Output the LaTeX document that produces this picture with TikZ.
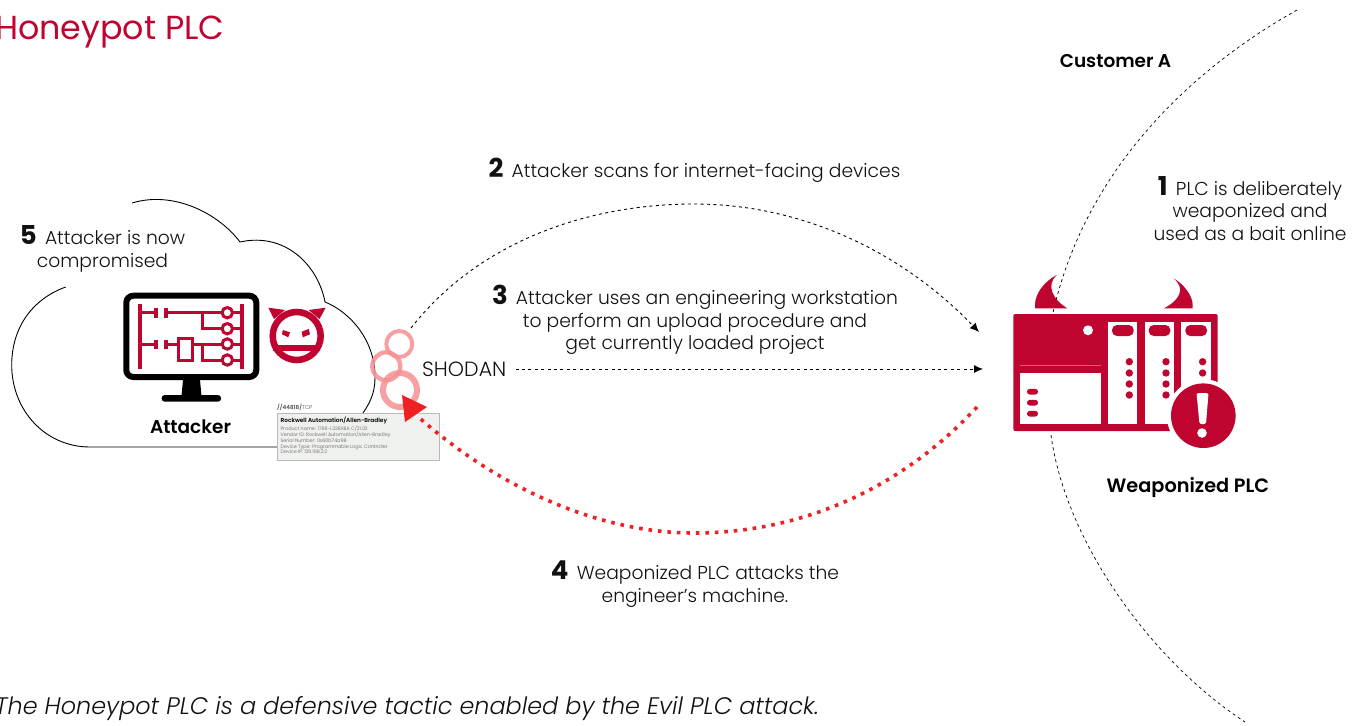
\documentclass[tikz,border=0pt]{standalone}
\usepackage{fontspec}
\setmainfont{Poppins}[UprightFont=* Light,BoldFont=* SemiBold,ItalicFont=* Light Italic]
\newfontfamily\numfont{Poppins}[UprightFont=* Bold]
\newfontfamily\titlefont{Poppins}
\definecolor{plcred}{HTML}{BF0430}
\definecolor{arrowred}{HTML}{EE2024}
\definecolor{cardfill}{HTML}{EFF1EF}
\definecolor{cardedge}{HTML}{B9BBB9}
\definecolor{bodytext}{HTML}{111111}
\usetikzlibrary{arrows.meta}
\tikzset{
 lbl/.style={font=\fontsize{18.7}{22.4}\selectfont,text=bodytext,align=center,inner sep=0pt,anchor=center},
 strong/.style={font=\fontsize{18.5}{22}\bfseries\selectfont,text=black,inner sep=0pt},
 thinrim/.style={draw=black,line width=0.9pt},
 rimdash/.style={draw=black,line width=0.7pt,dash pattern=on 3pt off 3.2pt},
 scandash/.style={draw=black,line width=0.9pt,dash pattern=on 3pt off 3.4pt},
 reddot/.style={draw=arrowred,line width=3.6pt,dash pattern=on 3.6pt off 5.9pt},
 ring/.style={draw=arrowred!50!white,opacity=0.85},
 rail/.style={draw=plcred,line width=3.8pt},
 wire/.style={draw=plcred,line width=3pt},
 solidred/.style={fill=plcred,draw=none},
 blank/.style={fill=white,draw=none},
 cardtxt/.style={font=\fontsize{4.85}{5.8}\selectfont,text=black!65,align=left,inner sep=0pt,anchor=north west},
}
\newcommand{\bign}[1]{{\numfont\fontsize{26}{22}\selectfont #1}}
\begin{document}
\begin{tikzpicture}[x=1pt,y=-1pt]
\useasboundingbox (0,0) rectangle (1356,725);
% title / caption
\node[anchor=base west,inner sep=0pt,text=plcred,font=\fontsize{33.3}{34}\titlefont] (title) at (-5,40) {Honeypot PLC};
\node[anchor=base west,inner sep=0pt,text=bodytext,font=\fontsize{23.9}{26}\itshape\selectfont] (caption) at (-5,714) {The Honeypot PLC is a defensive tactic enabled by the Evil PLC attack.};
% customer boundary
\coordinate (rimA) at (1297,10);
\coordinate (rimB) at (1052.7,314);
\coordinate (rimC) at (1051,435);
\coordinate (rimD) at (1245,722);
\draw[rimdash] (rimA) .. controls (1190,70) and (1085,170) .. (rimB);
\draw[rimdash] (rimC) .. controls (1065,540) and (1150,660) .. (rimD);
% cloud
\draw[thinrim,line join=miter] (65.7,287) .. controls (30,300) and (11.7,330) .. (11.7,365)
 .. controls (11.7,410) and (45,447) .. (90,447) -- (277,447);
\draw[thinrim] (363,413) .. controls (372,400) and (375,390) .. (375,377)
 .. controls (375,340) and (350,312) .. (325,302)
 .. controls (318,265) and (285,232) .. (240,242)
 .. controls (220,215) and (175,190) .. (132,203);
% labels
\node[lbl] (l5) at (102.5,249) {\bign{5}\, Attacker is now\\compromised};
\node[strong,anchor=base] (attacker) at (190.5,433) {Attacker};
\node[strong,anchor=base] (custa) at (1115.5,67) {Customer A};
\node[strong,anchor=base,font=\fontsize{19.3}{22}\bfseries\selectfont] (wplc) at (1188,492) {Weaponized PLC};
\node[lbl] (l1) at (1250,208.5) {\bign{1}\, PLC is deliberately\\weaponized and\\used as a bait online};
\node[lbl] (l2) at (694.5,170) {\bign{2}\, Attacker scans for internet-facing devices};
\node[lbl] (l3) at (695,320) {\bign{3}\, Attacker uses an engineering workstation\\to perform an upload procedure and\\get currently loaded project};
\node[lbl] (l4) at (695,584) {\bign{4}\, Weaponized PLC attacks the\\engineer's machine.};
\node[lbl,anchor=west,font=\fontsize{20.6}{22}\selectfont] (shodan) at (422,369) {SHODAN};
% monitor
\draw[black,line width=6pt,fill=white,rounded corners=7pt] (126.3,295.7) rectangle (256.3,377);
\fill[black] (183,380) -- (200,380) -- (201.5,396) -- (181.5,396) -- cycle;
\fill[black,rounded corners=3pt] (161.7,395) rectangle (221,401.7);
% ladder
\draw[rail] (140,304) -- (140,369);
\draw[rail] (242,304) -- (242,369);
\draw[wire] (140,312.7) -- (155,312.7);
\draw[wire] (140,344) -- (155,344);
\draw[rail] (156,308) -- (156,317.5);
\draw[rail] (166,308) -- (166,317.5);
\draw[rail] (156,339.5) -- (156,349);
\draw[rail] (166,339.5) -- (166,349);
\draw[wire] (166,312.7) -- (242,312.7);
\draw[wire] (202.3,312.7) -- (202.3,328.7) -- (242,328.7);
\draw[wire] (166,344) -- (242,344);
\draw[wire] (202.3,344) -- (202.3,360) -- (242,360);
\draw[wire,fill=white] (178,338) rectangle (192,360.5);
\foreach \yy in {312.7,328.7,344,360}{\draw[wire,fill=white] (227.3,\yy) circle (5.2);}
% devil
\fill[plcred] (268.3,307.7) -- (285,310) -- (274,319) -- cycle;
\fill[plcred] (325.7,307.7) -- (308.5,310) -- (319.5,319) -- cycle;
\draw[plcred,line width=6.5pt,fill=white] (296.7,336) circle (24);
\draw[plcred,line width=6pt] (273,348) -- (320.4,348);
\fill[plcred] (282.7,330) -- (290,332.3) -- (288.3,337.3) -- (282,334.3) -- cycle;
\fill[plcred] (308.7,329) -- (301.7,331.7) -- (302.7,337.3) -- (310,334.3) -- cycle;
% scan paths
\coordinate (plcTop) at (979,332);
\coordinate (plcMid) at (983,369);
\coordinate (plcLow) at (977,407);
\coordinate (scanStart) at (411,328);
\coordinate (redEnd) at (420.7,419);
\draw[scandash,-{Latex[length=9pt,width=8pt]}] (scanStart) .. controls (480,240) and (590,204) .. (694,204) .. controls (800,204) and (900,250) .. (plcTop);
\draw[scandash,-{Latex[length=9pt,width=8pt]}] (shodan.east) ++(9,0) -- (plcMid);
% rings
\draw[ring,line width=4pt] (399.3,344) circle (13);
\draw[ring,line width=4.4pt] (386.3,366.3) circle (14);
\draw[ring,line width=6pt] (400,390) circle (17);
% card
\node[anchor=base west,inner sep=0pt,text=black!70,font=\fontsize{5.6}{6}\selectfont] (port) at (277,409) {\textbf{//44818/}TCP};
\node[draw=cardedge,fill=cardfill,line width=1.4pt,minimum width=162pt,minimum height=47pt,anchor=north west,inner sep=0pt] (card) at (276.6,413) {};
\node[anchor=north west,inner sep=0pt,text=black,font=\fontsize{5.8}{6}\bfseries\selectfont] (cardtitle) at (280.5,416.5) {Rockwell Automation/Allen-Bradley};
\node[cardtxt] (cardbody) at (280.5,426) {Product name: 1766-L32BXBA C/21.02\\Vendor ID: Rockwell Automation/Allen-Bradley\\Serial Number: 0x60b74a98\\Device Type: Programmable Logic Controller\\Device IP: 129.168.2.2};
% red attack path
\draw[reddot] (plcLow) .. controls (900,490) and (800,533) .. (694,533) .. controls (590,533) and (490,480) .. (redEnd);
\fill[arrowred] (402,395) -- (427,407) -- (405,422) -- cycle;
% PLC
\fill[plcred,rounded corners=2pt] (1013.3,314) rectangle (1217.7,431);
\fill[blank] (1020,372.7) rectangle (1100.7,423.7);
\draw[white,opacity=0.35,line width=0.6pt] (1020,365.3) -- (1100.7,365.3);
\fill[white] (1088,330.3) circle (5);
\foreach \xx in {1108,1144.7,1181.3}{
 \fill[blank] (\xx,321.7) rectangle ++(29.3,102);
 \fill[solidred,rounded corners=5pt] (\xx+4,325) rectangle ++(21.7,11);
 \foreach \yy in {361.7,373,384,395}{\fill[solidred] (\xx+21.3,\yy) circle (3.7);}
}
\foreach \yy in {391.7,402.7,413.7}{\fill[solidred,rounded corners=2.7pt] (1027,\yy-2.8) rectangle (1038,\yy+2.8);}
% horns
\fill[plcred] (1056.7,275) .. controls (1045,281) and (1035,293) .. (1035,305) -- (1035,308.3) -- (1067.3,308.3) .. controls (1052,299) and (1046,285) .. (1056.7,275) -- cycle;
\fill[plcred] (1173.3,278.3) .. controls (1184,284) and (1192.7,296) .. (1192.7,305) -- (1192.7,308.3) -- (1164,308.3) .. controls (1180,300) and (1186,288) .. (1173.3,278.3) -- cycle;
% alert
\fill[white] (1203.3,415.7) circle (36.5);
\fill[plcred] (1203.3,415.7) circle (32.3);
\fill[white,rounded corners=1.5pt] (1196.5,393) -- (1208.5,393) -- (1206,424) -- (1199.5,424) -- cycle;
\fill[white] (1202,433) circle (4.8);
\end{tikzpicture}
\end{document}
